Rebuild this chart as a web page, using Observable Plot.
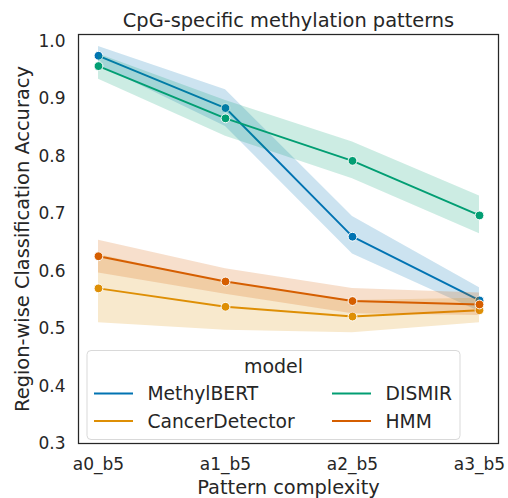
<!DOCTYPE html>
<html>
<head>
<meta charset="utf-8">
<script src="https://cdn.jsdelivr.net/npm/d3@7"></script>
<script src="https://cdn.jsdelivr.net/npm/@observablehq/plot@0.6"></script>
<style>
  html, body { margin: 0; padding: 0; background: #fff; }
  svg { font-family: "DejaVu Sans", sans-serif; }
</style>
</head>
<body>
<div id="chart"></div>
<script>
const categories = ["a0_b5", "a1_b5", "a2_b5", "a3_b5"];
const models = ["MethylBERT", "CancerDetector", "DISMIR", "HMM"];
const colors = ["#0173b2", "#de8f05", "#029e73", "#d55e00"];

const methylbertMean  = [0.975, 0.884, 0.660, 0.549];
const methylbertLower = [0.959, 0.852, 0.630, 0.530];
const methylbertUpper = [0.991, 0.916, 0.695, 0.571];

const cancerMean  = [0.570, 0.538, 0.521, 0.532];
const cancerLower = [0.510, 0.497, 0.493, 0.510];
const cancerUpper = [0.629, 0.580, 0.549, 0.553];

const dismirMean  = [0.957, 0.866, 0.792, 0.697];
const dismirLower = [0.934, 0.835, 0.761, 0.665];
const dismirUpper = [0.978, 0.897, 0.825, 0.731];

const hmmMean  = [0.626, 0.582, 0.548, 0.542];
const hmmLower = [0.597, 0.560, 0.526, 0.523];
const hmmUpper = [0.654, 0.604, 0.570, 0.562];

const yTicks = [0.3, 0.4, 0.5, 0.6, 0.7, 0.8, 0.9, 1.0];

const series = [
  {model: models[0], mean: methylbertMean, lower: methylbertLower, upper: methylbertUpper},
  {model: models[1], mean: cancerMean, lower: cancerLower, upper: cancerUpper},
  {model: models[2], mean: dismirMean, lower: dismirLower, upper: dismirUpper},
  {model: models[3], mean: hmmMean, lower: hmmLower, upper: hmmUpper}
];

const textColor = "#262626";

const seriesMarks = series.flatMap((s, i) => {
  const rows = categories.map((c, j) => ({x: c, y: s.mean[j], lo: s.lower[j], hi: s.upper[j]}));
  return [
    Plot.areaY(rows, {x: "x", y1: "lo", y2: "hi", fill: colors[i], fillOpacity: 0.2}),
    Plot.line(rows, {x: "x", y: "y", stroke: colors[i], strokeWidth: 1.9}),
    Plot.dot(rows, {x: "x", y: "y", fill: colors[i], stroke: "white", strokeWidth: 1, r: 4.4})
  ];
});

const W = 508, H = 498;
const chart = Plot.plot({
  width: W,
  height: H,
  marginLeft: 78,
  marginRight: 10,
  marginTop: 34,
  marginBottom: 55,
  style: {fontFamily: "DejaVu Sans, sans-serif", color: textColor, background: "white"},
  x: {type: "point", domain: categories, padding: 0.15},
  y: {domain: [0.3, 1.012]},
  marks: [
    ...seriesMarks,
    Plot.frame({stroke: textColor, strokeWidth: 1.25}),
    Plot.axisY({ticks: yTicks, tickFormat: d3.format(".1f"), tickSize: 0, tickPadding: 13, fontSize: 17, label: null}),
    Plot.axisX({tickSize: 0, tickPadding: 14, fontSize: 17, label: null}),
    Plot.text(["CpG-specific methylation patterns"], {frameAnchor: "top", dy: -13.5, fontSize: 19.4, fill: textColor, lineAnchor: "middle", textAnchor: "middle"}),
    Plot.text(["Pattern complexity"], {frameAnchor: "bottom", dy: 44, fontSize: 19.4, fill: textColor, lineAnchor: "middle", textAnchor: "middle"}),
    Plot.text(["Region-wise Classification Accuracy"], {frameAnchor: "left", dx: -55.5, rotate: -90, fontSize: 19.4, fill: textColor, lineAnchor: "middle", textAnchor: "middle"})
  ]
});

document.getElementById("chart").appendChild(chart);

// Legend inside the plot area (layout only)
const svg = d3.select(chart);
const lg = svg.append("g")
  .attr("font-family", "DejaVu Sans, sans-serif")
  .attr("text-anchor", "start");
lg.append("rect")
  .attr("x", 87).attr("y", 350.5).attr("width", 373).attr("height", 89)
  .attr("rx", 4).attr("fill", "white").attr("fill-opacity", 0.8)
  .attr("stroke", "#d9d9d9").attr("stroke-width", 1);
lg.append("text").attr("x", 273.5).attr("y", 366).attr("dy", "0.35em")
  .attr("text-anchor", "middle").attr("font-size", 19).attr("fill", textColor).text("model");
const colX = [94, 332];
const rowY = [393.5, 421];
// MethylBERT col0 row0, CancerDetector col0 row1, DISMIR col1 row0, HMM col1 row1
const legendPos = [[0, 0], [0, 1], [1, 0], [1, 1]];
models.forEach((m, i) => {
  const [col, row] = legendPos[i];
  const x0 = colX[col];
  const y0 = rowY[row];
  lg.append("line").attr("x1", x0).attr("x2", x0 + 39).attr("y1", y0).attr("y2", y0)
    .attr("stroke", colors[i]).attr("stroke-width", 1.9);
  lg.append("text").attr("x", x0 + 53.5).attr("y", y0).attr("dy", "0.35em")
    .attr("text-anchor", "start")
    .attr("font-size", 18.7).attr("fill", textColor).text(m);
});
</script>
</body>
</html>
